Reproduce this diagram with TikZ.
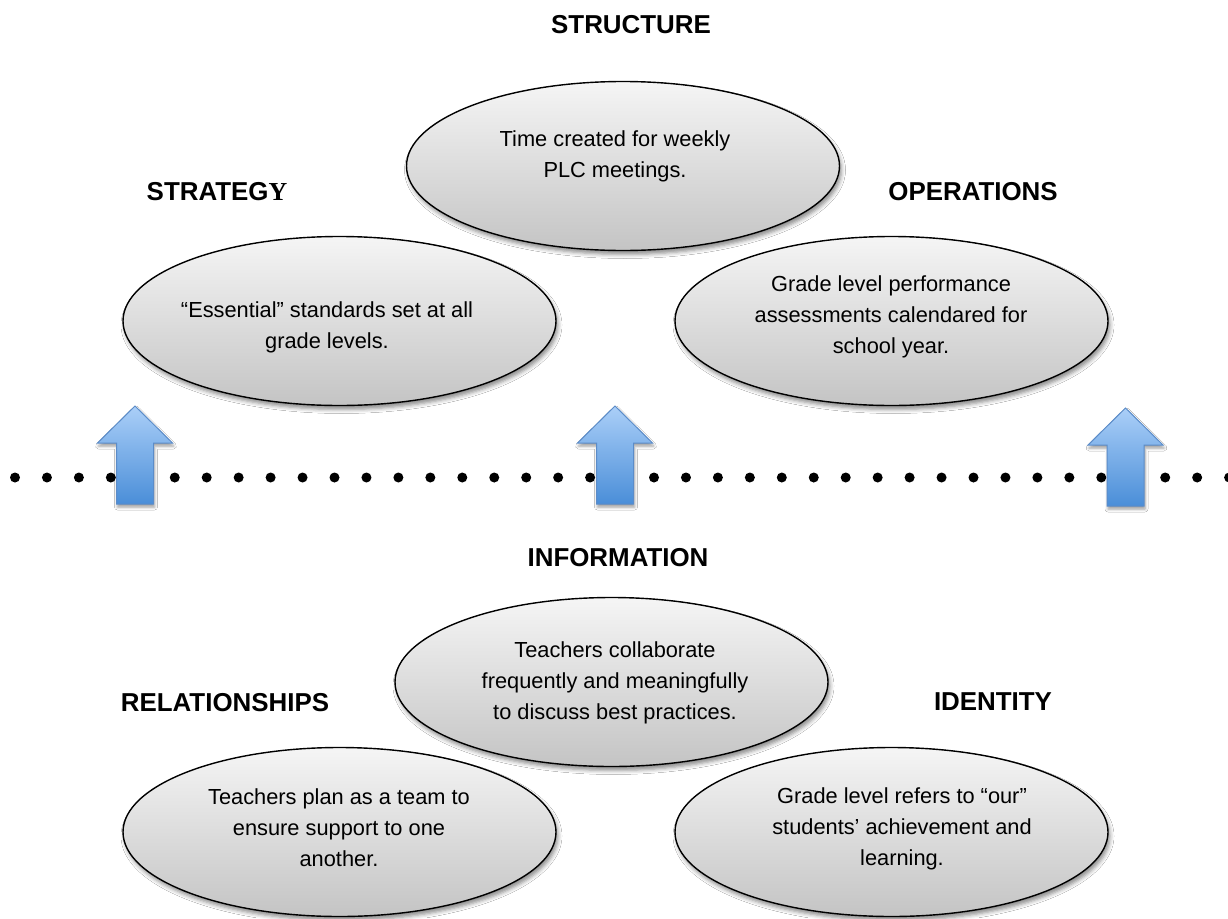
\documentclass[tikz,border=0pt]{standalone}
\usepackage{fontspec}
\setmainfont{Liberation Sans}
\newfontfamily\serifY{Liberation Serif}
\usetikzlibrary{shapes.geometric,shadows.blur}
\definecolor{arrowtop}{HTML}{ABCFF8}
\definecolor{arrowbot}{HTML}{4A8ED8}
\definecolor{arrowedge}{HTML}{5B8CC9}
\definecolor{elltop}{HTML}{F5F5F5}
\definecolor{ellbot}{HTML}{C4C4C4}
\tikzset{
  oval/.style={ellipse, minimum width=433pt, minimum height=169pt, draw=black,
    line width=1.4pt, top color=elltop, bottom color=ellbot, inner sep=0pt,
    blur shadow={shadow xshift=2pt, shadow yshift=-4pt, shadow blur radius=4pt, shadow opacity=45}},
  body/.style={align=center, font=\fontsize{21.8}{31}\selectfont, inner sep=0pt},
  heading/.style={font=\fontsize{25.9}{30}\selectfont\bfseries, inner sep=0pt, text depth=0pt},
  dot/.style={circle, fill=black, minimum size=10pt, inner sep=0pt},
  blockarrow/.style={draw=arrowedge, line width=1pt, top color=arrowtop, bottom color=arrowbot,
    blur shadow={shadow xshift=1pt, shadow yshift=-3pt, shadow blur radius=3pt, shadow opacity=40}}
}
\newcommand\blockarrowat[2]{%
  \path[blockarrow] (#1,#2) -- ++(37.5,37) -- ++(-19,0) -- ++(0,61) -- ++(-37,0)
    -- ++(0,-61) -- ++(-19,0) -- cycle;}
\begin{document}
\begin{tikzpicture}[x=1pt,y=-1pt]
\useasboundingbox[fill=white] (0,0) rectangle (1228,918);

% headings
\node[heading] (h1) at (631,24) {STRUCTURE};
\node[heading] (h2) at (217,191) {STRATEG{\serifY Y}};
\node[heading] (h3) at (973,191) {OPERATIONS};
\node[heading] (h4) at (618,557) {INFORMATION};
\node[heading] (h5) at (225,702) {RELATIONSHIPS};
\node[heading] (h6) at (993,702) {IDENTITY};

% ellipses
\node[oval] (e1) at (623,166) {};
\node[oval] (e2) at (339.5,321) {};
\node[oval] (e3) at (891.5,321) {};
\node[oval] (e4) at (611.5,682) {};
\node[oval] (e5) at (339.5,832) {};
\node[oval] (e6) at (891.5,832) {};

% ellipse texts
\node[body] (t1) at (615,156) {Time created for weekly\\PLC meetings.};
\node[body] (t2) at (327,327) {“Essential” standards set at all\\grade levels.};
\node[body] (t3) at (891,317) {Grade level performance\\assessments calendared for\\school year.};
\node[body] (t4) at (615,683) {Teachers collaborate\\frequently and meaningfully\\to discuss best practices.};
\node[body] (t5) at (339,828) {Teachers plan as a team to\\ensure support to one\\another.};
\node[body] (t6) at (902,829) {Grade level refers to “our”\\students’ achievement and\\learning.};

% dotted line
\foreach \k in {0,...,38} \node[dot] (d\k) at ({15+31.95*\k},477.5) {};

% block arrows
\blockarrowat{135}{406}
\blockarrowat{615}{406}
\blockarrowat{1125.5}{408}
\end{tikzpicture}
\end{document}
